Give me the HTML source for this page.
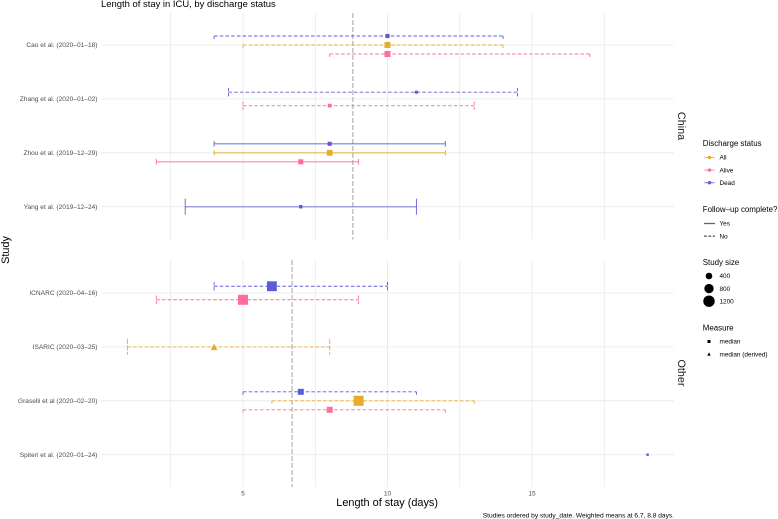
<!DOCTYPE html>
<html>
<head>
<meta charset="utf-8">
<style>
html,body{margin:0;padding:0;background:#fff;width:778px;height:519px;overflow:hidden}
svg{display:block;font-family:"Liberation Sans",Arial,sans-serif}
</style>
</head>
<body>
<svg id="chart" width="778" height="519" viewBox="0 0 778 519" xmlns="http://www.w3.org/2000/svg">
<text x="101" y="7" font-size="9.45" fill="#000">Length of stay in ICU, by discharge status</text>
<text x="438" y="506" font-size="10.9" fill="#000" text-anchor="end">Length of stay (days)</text>
<text transform="translate(9,250) rotate(-90)" font-size="10.9" fill="#000" text-anchor="middle">Study</text>
<text x="674" y="517.5" font-size="6.6" fill="#000" text-anchor="end">Studies ordered by study_date. Weighted means at 6.7, 8.8 days.</text>
<text transform="translate(678,126) rotate(90)" font-size="10.8" fill="#1a1a1a" text-anchor="middle">China</text>
<text transform="translate(678,373) rotate(90)" font-size="10.8" fill="#1a1a1a" text-anchor="middle">Other</text>
<g id="grid"></g>
<g id="marks"></g>
<g id="ticks"></g>
<g id="legend"></g>
</svg>
<script>
var xTickValues = [5, 10, 15];
var xMinorValues = [2.5, 5, 7.5, 10, 12.5, 15, 17.5];
var panelNames = ['China', 'Other'];
var panelMeans = [8.8, 6.7];
var studiesChina = ['Cao et al. (2020\u201301\u201318)', 'Zhang et al. (2020\u201301\u201302)', 'Zhou et al. (2019\u201312\u201329)', 'Yang et al. (2019\u201312\u201324)'];
var studiesOther = ['ICNARC (2020\u201304\u201316)', 'ISARIC (2020\u201303\u201325)', 'Graselli et al (2020\u201302\u201320)', 'Spiteri et al. (2020\u201301\u201324)'];

var recPanel   = [0,0,0, 0,0, 0,0,0, 0, 1,1, 1, 1,1,1, 1];
var recStudy   = [0,0,0, 1,1, 2,2,2, 3, 0,0, 1, 2,2,2, 3];
var recStatus  = ['Dead','All','Alive', 'Dead','Alive', 'Dead','All','Alive', 'Dead', 'Dead','Alive', 'All', 'Dead','All','Alive', 'Dead'];
var recMedian  = [10,10,10, 11,8, 8,8,7, 7, 6,5, 4, 7,9,8, 19];
var recLow     = [4,5,8, 4.5,5, 4,4,2, 3, 4,2, 1, 5,6,5, 19];
var recHigh    = [14,14,17, 14.5,13, 12,12,9, 11, 10,9, 8, 11,13,12, 19];
var recSize    = [200,430,430, 110,170, 200,400,300, 140, 1150,1200, 560, 430,1200,430, 70];
var recDone    = [0,0,0, 0,0, 1,1,1, 1, 0,0, 0, 0,0,0, 0];
var recDerived = [0,0,0, 0,0, 0,0,0, 0, 0,0, 1, 0,0,0, 0];

var legendStatus = ['All', 'Alive', 'Dead'];
var legendFollow = ['Yes', 'No'];
var legendSizes = [400, 800, 1200];
var legendMeasure = ['median', 'median (derived)'];

var NS = 'http://www.w3.org/2000/svg';
var COLORS = {All:'#e8ab2c', Alive:'#ff6c9e', Dead:'#5c5cd9'};
var PANELS = [{top:13, bottom:239.5, firstRow:45}, {top:260, bottom:487, firstRow:293}];
var ROW_STEP = 53.9;
var PLOT_LEFT = 101, PLOT_RIGHT = 674;

function xScale(v){ return 243 + (v - 5) * 28.9; }
function rowY(p, s){ return PANELS[p].firstRow + s * ROW_STEP; }
function sizeSide(n){ return 0.29 * Math.sqrt(n); }
function sizeDiameter(n){ return 0.33 * Math.sqrt(n); }

function add(parent, tag, attrs, text){
  var el = document.createElementNS(NS, tag);
  for (var k in attrs) el.setAttribute(k, attrs[k]);
  if (text !== undefined) el.textContent = text;
  parent.appendChild(el);
  return el;
}

var grid = document.getElementById('grid');
var marks = document.getElementById('marks');
var ticks = document.getElementById('ticks');
var legend = document.getElementById('legend');

PANELS.forEach(function(panel, p){
  xMinorValues.forEach(function(v){
    var line = add(grid, 'line', {x1:xScale(v), x2:xScale(v), y1:panel.top, y2:panel.bottom, stroke:'#e8e8e8', 'stroke-width':0.8});
    
    
  });
  var labels = p === 0 ? studiesChina : studiesOther;
  labels.forEach(function(label, s){
    var y = rowY(p, s);
    var line = add(grid, 'line', {x1:PLOT_LEFT, x2:PLOT_RIGHT, y1:y, y2:y, stroke:'#e8e8e8', 'stroke-width':0.8});
    
    
    var t = add(ticks, 'text', {x:97.5, y:y + 2.2, 'font-size':6.6, fill:'#4d4d4d', 'text-anchor':'end'}, label);
    
    
  });
});

xTickValues.forEach(function(v){
  var t = add(ticks, 'text', {x:xScale(v), y:495.5, 'font-size':6.6, fill:'#4d4d4d', 'text-anchor':'middle'}, String(v));
  
  
});

panelMeans.forEach(function(m, p){
  var line = add(marks, 'line', {x1:xScale(m), x2:xScale(m), y1:PANELS[p].top, y2:PANELS[p].bottom, stroke:'#c2c2c2', 'stroke-width':1.5, 'stroke-dasharray':'5 2'});
  
  
});

function rowCount(p, s){
  var c = 0;
  for (var i = 0; i < recStudy.length; i++) if (recPanel[i] === p && recStudy[i] === s) c++;
  return c;
}
function rowIndex(i){
  var c = 0;
  for (var j = 0; j < i; j++) if (recPanel[j] === recPanel[i] && recStudy[j] === recStudy[i]) c++;
  return c;
}

recMedian.forEach(function(med, i){
  var p = recPanel[i], s = recStudy[i];
  var n = rowCount(p, s), k = rowIndex(i);
  var y = rowY(p, s) + (k - (n - 1) / 2) * 9;
  if (n === 2) y = rowY(p, s) + (k === 0 ? -6.75 : 6.75);
  var capH = n === 1 ? 8 : n === 2 ? 4.2 : 2.8;
  var color = COLORS[recStatus[i]];
  var group = add(marks, 'g', {});
  
  
  if (recHigh[i] > recLow[i]) {
    var attrs = {x1:xScale(recLow[i]), x2:xScale(recHigh[i]), y1:y, y2:y, stroke:color};
    if (recDone[i]) {
      attrs['stroke-width'] = n === 1 ? 1.5 : 1.2;
      attrs['stroke-opacity'] = n === 1 ? 0.55 : 0.8;
    } else {
      attrs['stroke-width'] = 0.9;
      attrs['stroke-dasharray'] = '3.5 2.2';
    }
    var ln = add(group, 'line', attrs);
    
    
    [recLow[i], recHigh[i]].forEach(function(v){
      var capAttrs = {x1:xScale(v), x2:xScale(v), stroke:color, 'stroke-width':0.9};
      if (recDone[i]) {
        capAttrs.y1 = y - capH;
        capAttrs.y2 = y + capH;
      } else if (n === 3) {
        capAttrs.y1 = y;
        capAttrs.y2 = y + 3;
      } else {
        capAttrs.y1 = y - capH;
        capAttrs.y2 = y + capH;
        capAttrs['stroke-dasharray'] = n === 2 ? '3.4 1.6' : '5 1.5';
      }
      var cap = add(group, 'line', capAttrs);
      
      
    });
  }
  var cx = xScale(med), side = sizeSide(recSize[i]);
  var mark;
  if (recDerived[i]) {
    var h = side * 0.95;
    mark = add(group, 'polygon', {points:(cx - side/2) + ',' + (y + h/2) + ' ' + (cx + side/2) + ',' + (y + h/2) + ' ' + cx + ',' + (y - h/2), fill:color});
  } else {
    mark = add(group, 'rect', {x:cx - side/2, y:y - side/2, width:side, height:side, fill:color});
  }
  
  
});

function legendTitle(text, y, name){
  var t = add(legend, 'text', {x:702.8, y:y, 'font-size':7.9, fill:'#000'}, text);
  
  
}
function legendLabel(text, y){
  var t = add(legend, 'text', {x:719.5, y:y + 2.2, 'font-size':6.4, fill:'#000'}, text);
  
  
}

legendTitle('Discharge status', 146, 'legend-title-status');
legendStatus.forEach(function(name, i){
  var y = 157.5 + i * 12.6;
  var l = add(legend, 'line', {x1:704.5, x2:714.5, y1:y, y2:y, stroke:COLORS[name], 'stroke-width':1.1, 'stroke-opacity':0.8});
  
  
  var m = add(legend, 'circle', {cx:709.5, cy:y, r:1.7, fill:COLORS[name]});
  
  
  legendLabel(name, y);
});

legendTitle('Follow\u2013up complete?', 212, 'legend-title-follow-up');
legendFollow.forEach(function(name, i){
  var y = 223.5 + i * 12.6;
  var attrs = {x1:704, x2:715, y1:y, y2:y, stroke:i === 0 ? '#666' : '#222', 'stroke-width':i === 0 ? 1.3 : 1};
  if (i === 1) attrs['stroke-dasharray'] = '2.8 1.6';
  var l = add(legend, 'line', attrs);
  
  
  legendLabel(name, y);
});

legendTitle('Study size', 265, 'legend-title-study-size');
legendSizes.forEach(function(v, i){
  var y = 276 + i * 12.6;
  var c = add(legend, 'circle', {cx:709, cy:y, r:sizeDiameter(v) / 2, fill:'#000'});
  
  
  legendLabel(String(v), y);
});

legendTitle('Measure', 330.5, 'legend-title-measure');
legendMeasure.forEach(function(name, i){
  var y = 341.5 + i * 12.6;
  var m;
  if (i === 0) m = add(legend, 'rect', {x:707.5, y:y - 1.5, width:3, height:3, fill:'#000'});
  else m = add(legend, 'polygon', {points:'707.2,' + (y + 1.5) + ' 710.8,' + (y + 1.5) + ' 709,' + (y - 1.7), fill:'#000'});
  
  
  legendLabel(name, y);
});
</script>
</body>
</html>
